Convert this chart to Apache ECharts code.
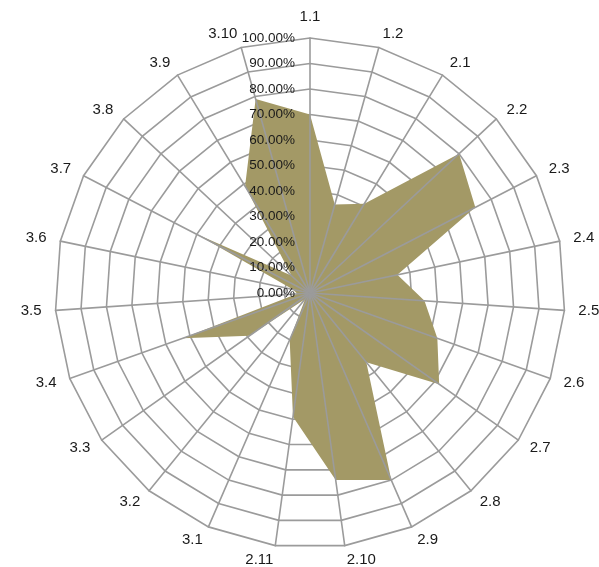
<!DOCTYPE html>
<html>
<head>
<meta charset="utf-8">
<script src="https://cdn.jsdelivr.net/npm/echarts@6/dist/echarts.min.js"></script>
<style>
  html, body { margin: 0; padding: 0; background: #fff; }
  #chart { width: 599px; height: 567px; }
</style>
</head>
<body>
<div id="chart"></div>
<script>
// Indicator names, clockwise from the top
var categories = ['1.1', '1.2', '2.1', '2.2', '2.3', '2.4', '2.5', '2.6', '2.7', '2.8', '2.9',
  '2.10', '2.11', '3.1', '3.2', '3.3', '3.4', '3.5', '3.6', '3.7', '3.8', '3.9', '3.10'];

// Share per indicator (fraction of 1)
var values = [0.70, 0.36, 0.41, 0.80, 0.73, 0.35, 0.45, 0.53, 0.62, 0.35, 0.80,
  0.74, 0.49, 0.20, 0.03, 0.29, 0.53, 0.05, 0.07, 0.50, 0.10, 0.49, 0.79];

// Scale ticks
var tickMin = 0;
var tickMax = 1;
var tickCount = 10;

// ECharts lays indicators out counter-clockwise, so keep the first one at the top
// and reverse the rest to read clockwise.
function clockwiseOrder(arr) {
  return [arr[0]].concat(arr.slice(1).reverse());
}

var names = clockwiseOrder(categories);
var vals = clockwiseOrder(values);

var gridColor = '#9b9b9b';
var textColor = '#1a1a1a';
var fontFamily = '"Liberation Sans", Arial, sans-serif';

// Lower layer: rings and indicator names; the top name is centred over its spoke
var indicatorNamed = names.map(function (n, i) {
  var o = { name: n, min: tickMin, max: tickMax };
  if (i === 0) {
    o.nameTextStyle = { align: 'center', verticalAlign: 'bottom', padding: 0 };
  }
  return o;
});

// Upper layer: spokes plus the percentage scale on the first spoke
var indicatorSpokes = names.map(function (n, i) {
  var o = { name: n, min: tickMin, max: tickMax };
  if (i === 0) {
    o.axisLabel = {
      show: true,
      color: textColor,
      fontSize: 13.5,
      fontFamily: fontFamily,
      margin: 15,
      formatter: function (v) { return (v * 100).toFixed(2) + '%'; }
    };
  }
  return o;
});

var chart = echarts.init(document.getElementById('chart'), null, { renderer: 'canvas' });

chart.setOption({
  animation: false,
  backgroundColor: '#ffffff',
  radar: [
    {
      center: [310, 293],
      radius: 255,
      startAngle: 90,
      shape: 'polygon',
      splitNumber: tickCount,
      indicator: indicatorNamed,
      axisName: {
        color: textColor,
        fontSize: 15,
        fontFamily: fontFamily,
        padding: [6, 0, 0, 0]
      },
      nameGap: 14,
      axisLine: { show: false },
      axisTick: { show: false },
      axisLabel: { show: false },
      splitLine: { lineStyle: { color: gridColor, width: 1.6 } },
      splitArea: { show: false }
    },
    {
      z: 5,
      center: [310, 293],
      radius: 255,
      startAngle: 90,
      shape: 'polygon',
      splitNumber: tickCount,
      indicator: indicatorSpokes,
      axisName: { show: false },
      axisLine: { show: true, lineStyle: { color: gridColor, width: 1.6 } },
      axisTick: { show: false },
      axisLabel: { show: false },
      splitLine: { show: false },
      splitArea: { show: false }
    }
  ],
  series: [
    {
      type: 'radar',
      radarIndex: 0,
      z: 2,
      symbol: 'none',
      lineStyle: { width: 0, opacity: 0 },
      areaStyle: { color: '#a39966', opacity: 1 },
      data: [{ value: vals }]
    }
  ]
});
</script>
</body>
</html>
